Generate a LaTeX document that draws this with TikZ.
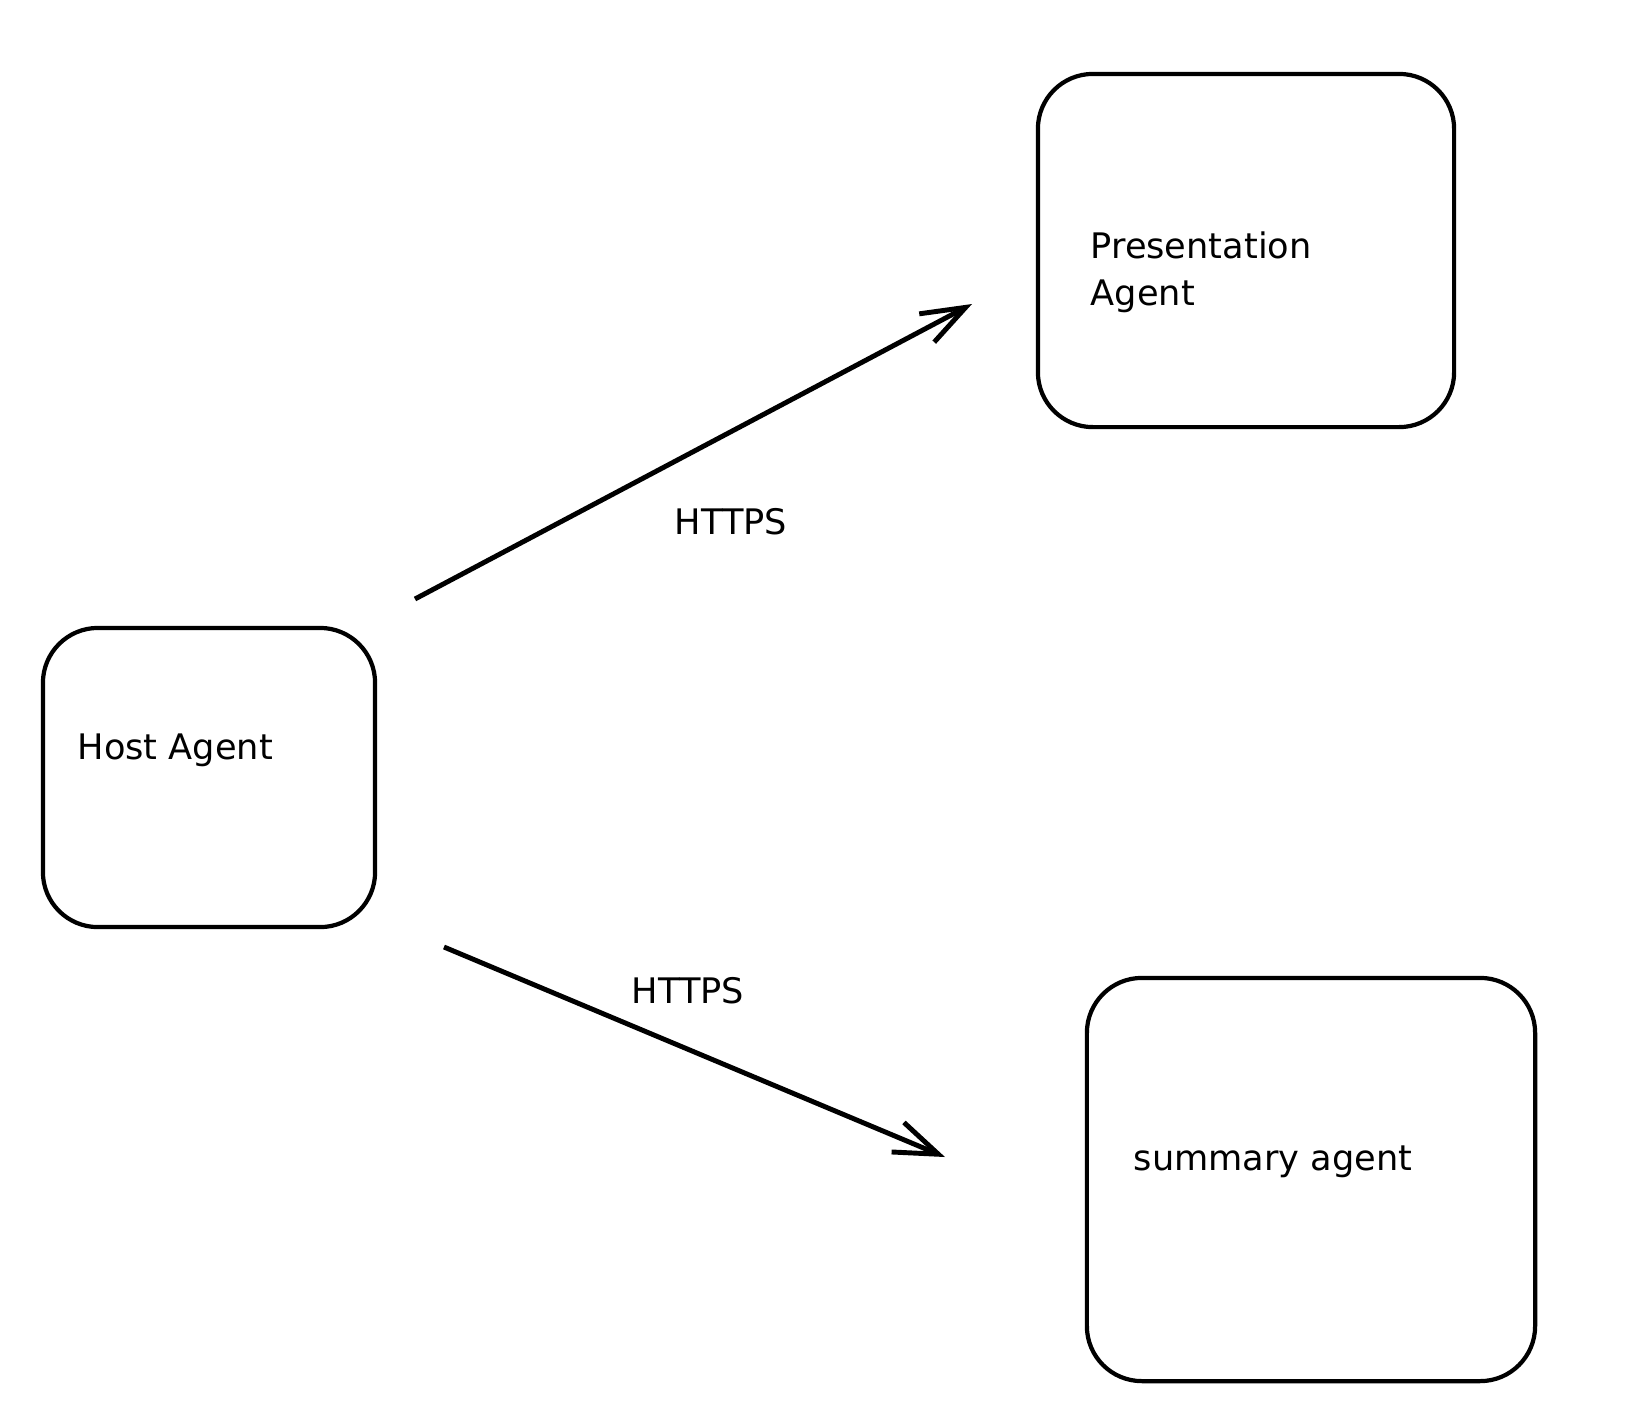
\documentclass[tikz,border=0pt]{standalone}
\usepackage{fontspec}
\setmainfont{DejaVu Sans}
\usetikzlibrary{arrows.meta, positioning}

\begin{document}
\begin{tikzpicture}[
    x=0.01cm, y=-0.01cm,
    agent/.style={draw, line width=1.2pt, rounded corners=0.55cm, inner sep=0pt},
    caption/.style={anchor=base west, align=left, inner sep=0pt},
    proto/.style={anchor=base, inner sep=0pt},
    link/.style={-{Straight Barb[length=4.4mm, width=3.2mm, line width=1.4pt]}, line width=1.4pt},
    every node/.append style={font=\fontsize{10}{13.3}\selectfont}
]
    \useasboundingbox (0,0) rectangle (1636,1420);

    % Agents
    \node[agent, minimum width=3.32cm, minimum height=2.99cm] (host) at (209,777.5) {};
    \node[agent, minimum width=4.16cm, minimum height=3.53cm] (presentation) at (1246,250.5) {};
    \node[agent, minimum width=4.48cm, minimum height=4.03cm] (summary) at (1311,1179.5) {};

    \node[caption] (hostlabel) at (77,759) {Host Agent};
    \node[caption] (presentationlabel) at (1090,305) {Presentation\\Agent};
    \node[caption] (summarylabel) at (1133,1170) {summary agent};

    % Links
    \coordinate (hostup) at (415,599);
    \coordinate (presentationin) at (972,304);
    \coordinate (hostdown) at (444,947);
    \coordinate (summaryin) at (945,1157);

    \draw[link] (hostup) -- (presentationin);
    \draw[link] (hostdown) -- (summaryin);

    \node[proto] (httpsup) at (731,534) {HTTPS};
    \node[proto] (httpsdown) at (688,1003) {HTTPS};

\end{tikzpicture}
\end{document}
